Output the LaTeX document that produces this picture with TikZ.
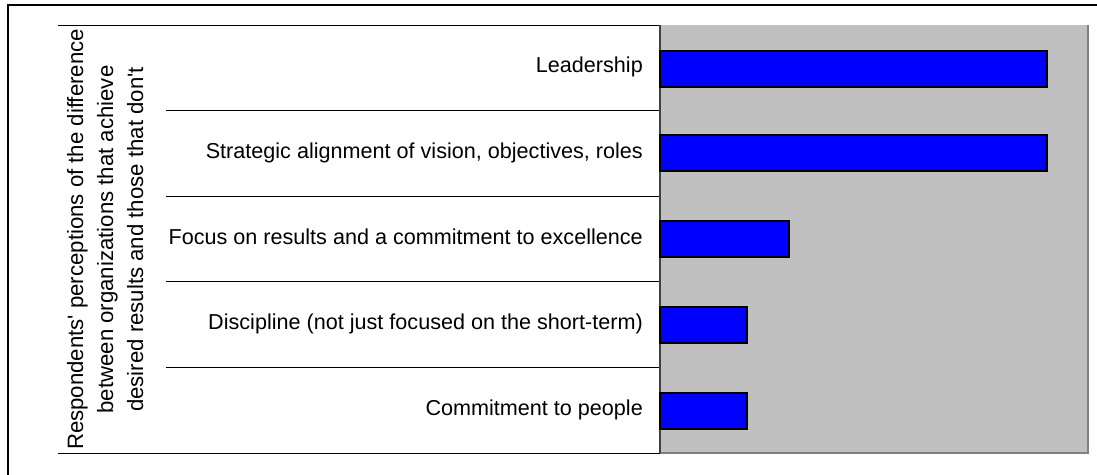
\documentclass[tikz,border=0pt]{standalone}
\usepackage{fontspec}
\setmainfont{Liberation Sans}[Ligatures=TeXOff]
\definecolor{barblue}{HTML}{0000FF}
\definecolor{plotgray}{HTML}{C0C0C0}
\definecolor{shadowgray}{HTML}{808080}
\definecolor{axisgray}{HTML}{404040}
\begin{document}
\begin{tikzpicture}[x=1pt,y=-1pt,
  lab/.style={font=\fontsize{21.6}{25}\selectfont, anchor=base east, inner sep=0pt},
  ttl/.style={font=\fontsize{22.2}{25}\selectfont, anchor=base, rotate=90, inner sep=0pt},
  bar/.style={fill=barblue, draw=black, line width=1.5pt},
  sep/.style={draw=black, line width=1pt}]
\useasboundingbox (0,0) rectangle (1097,474);
\fill[white] (0,0) rectangle (1097,474);
% outer frame
\draw[line width=2pt] (8,480) -- (8,5) -- (1100,5);
% plot area
\fill[plotgray] (660,25) rectangle (1088,453);
\draw[shadowgray!50, line width=1pt] (660,25.5) -- (1088,25.5);
\draw[shadowgray, line width=2pt] (660,453) -- (1088,453) -- (1088,25);
% category separators
\draw[sep] (58,25) -- (660,25);
\draw[sep] (166,110.6) -- (660,110.6);
\draw[sep] (166,196.2) -- (660,196.2);
\draw[sep] (166,281.8) -- (660,281.8);
\draw[sep] (166,367.4) -- (660,367.4);
\draw[sep] (58,453) -- (660,453);
% axis
\draw[axisgray, line width=2pt] (660,25) -- (660,453);
% bars
\draw[bar] (660,51) rectangle (1047,87);
\draw[bar] (660,135) rectangle (1047,171);
\draw[bar] (660,221) rectangle (789,257);
\draw[bar] (660,307) rectangle (747,343);
\draw[bar] (660,393) rectangle (747,429);
% category labels
\node[lab] (l1) at (643,72.8) {Leadership};
\node[lab] (l2) at (643,158.4) {Strategic alignment of vision, objectives, roles};
\node[lab] (l3) at (643,244) {Focus on results and a commitment to excellence};
\node[lab] (l4) at (643,329.6) {Discipline (not just focused on the short-term)};
\node[lab] (l5) at (643,415.2) {Commitment to people};
% axis title
\node[ttl] (t1) at (83,239.5) {Respondents' perceptions of the difference};
\node[ttl] (t2) at (113,239.5) {between organizations that achieve};
\node[ttl] (t3) at (143,239.5) {desired results and those that don't};
\end{tikzpicture}
\end{document}
